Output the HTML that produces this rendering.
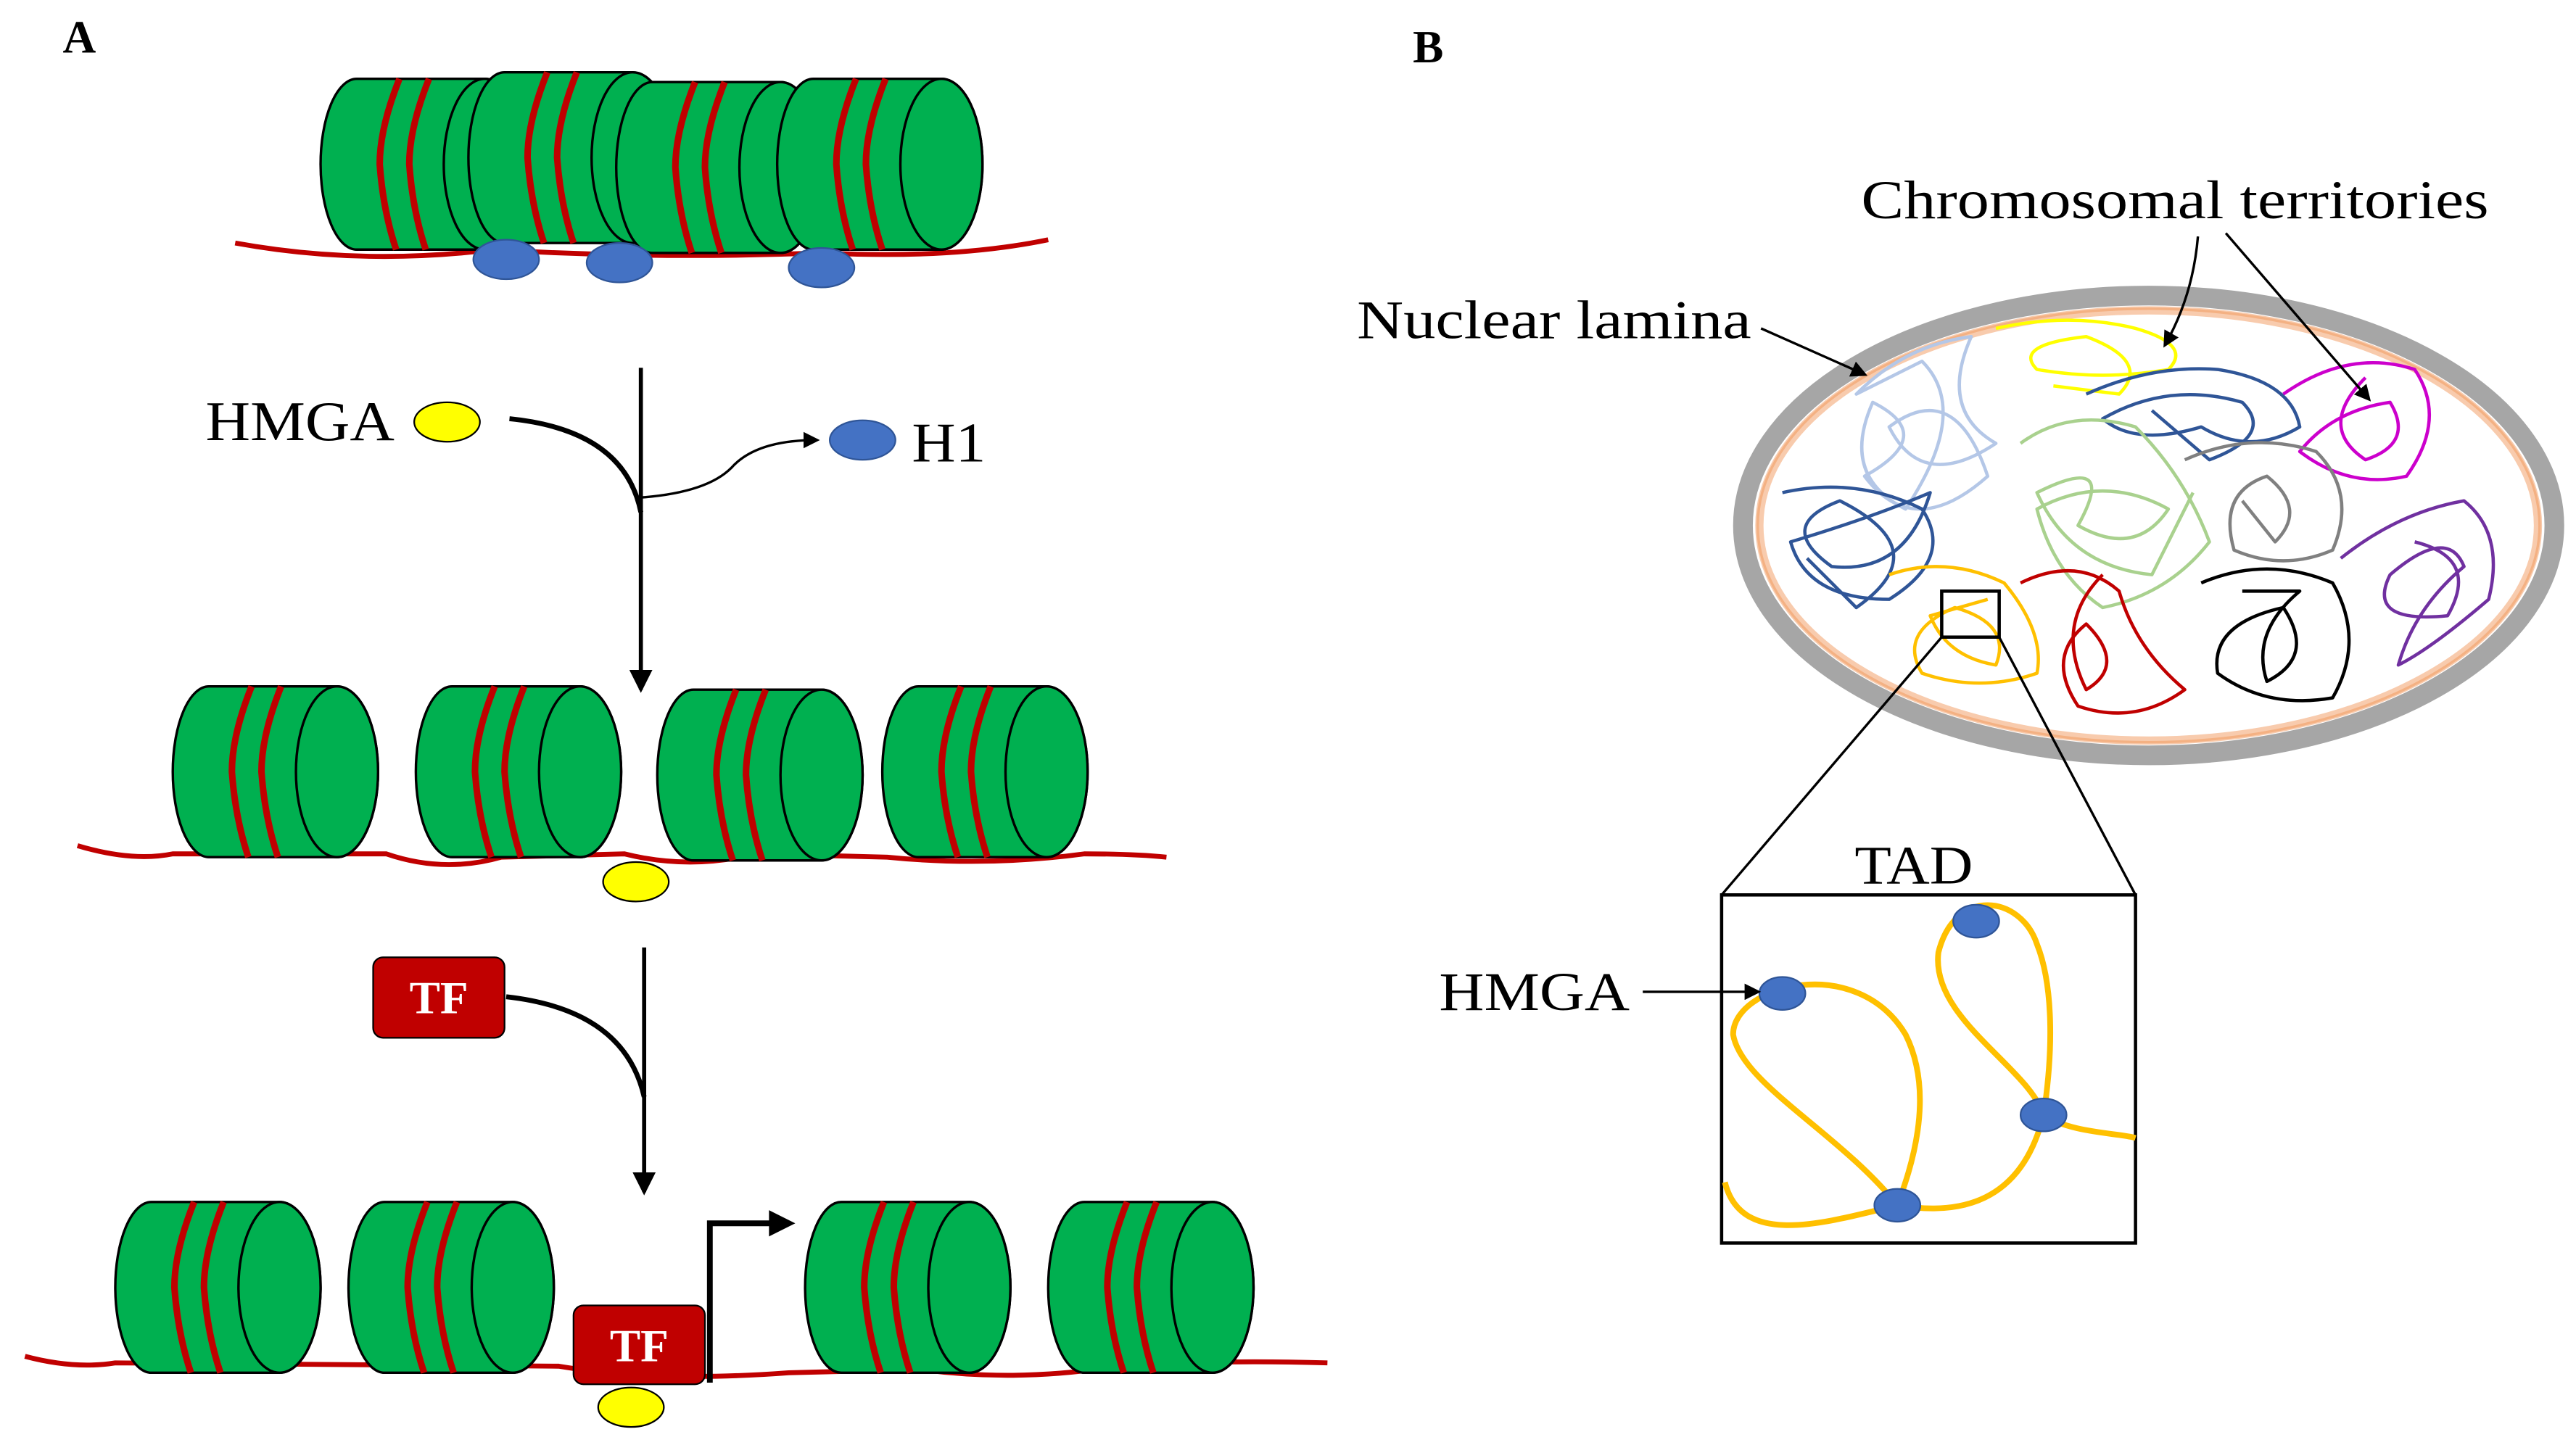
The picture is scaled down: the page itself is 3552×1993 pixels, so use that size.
<!DOCTYPE html>
<html><head><meta charset="utf-8"><style>
html,body{margin:0;padding:0;background:#fff;}
svg{display:block;}
text{font-family:"Liberation Serif",serif;}
</style></head><body>
<svg width="3552" height="1993" viewBox="0 0 1568 880" xmlns="http://www.w3.org/2000/svg">
<defs>
<g id="nuc">
<path d="M22,0 H100 A25,52 0 0 1 100,104 H22 A22,52 0 0 1 22,0 Z" fill="#00b050" stroke="#000" stroke-width="1.5"/>
<path d="M48,0 Q36,30 36,52 Q38,80 46,104 M66,0 Q54,30 54,52 Q56,80 64,104" fill="none" stroke="#c00000" stroke-width="4"/>
<ellipse cx="100" cy="52" rx="25" ry="52" fill="#00b050" stroke="#000" stroke-width="1.5"/>
</g>
<marker id="ah" markerWidth="10" markerHeight="10" refX="8" refY="5" orient="auto" markerUnits="userSpaceOnUse"><path d="M0,0 L10,5 L0,10 Z" fill="#000"/></marker>
<marker id="ah2" markerWidth="14" markerHeight="14" refX="12" refY="7" orient="auto" markerUnits="userSpaceOnUse"><path d="M0,0 L14,7 L0,14 Z" fill="#000"/></marker>
</defs>
<rect width="1568" height="880" fill="#fff"/>

<text x="38" y="32" font-size="28" font-weight="bold">A</text>
<text x="860" y="38" font-size="28" font-weight="bold">B</text>

<!-- Row 1 -->
<path d="M143,148 Q220,162 300,152 Q400,158 500,154 Q580,158 638,146" fill="none" stroke="#c00000" stroke-width="3"/>
<use href="#nuc" x="195" y="48"/>
<use href="#nuc" x="285" y="44"/>
<use href="#nuc" x="375" y="50"/>
<use href="#nuc" x="473" y="48"/>
<ellipse cx="308" cy="158" rx="20" ry="12" fill="#4472c4" stroke="#2f5597"/>
<ellipse cx="377" cy="160" rx="20" ry="12" fill="#4472c4" stroke="#2f5597"/>
<ellipse cx="500" cy="163" rx="20" ry="12" fill="#4472c4" stroke="#2f5597"/>

<!-- arrow 1 -->
<line x1="390" y1="224" x2="390" y2="420" stroke="#000" stroke-width="2.5" marker-end="url(#ah2)"/>
<path d="M310,255 Q380,262 390,312" fill="none" stroke="#000" stroke-width="3"/>
<path d="M390,303 Q430,300 445,285 Q460,268 497,268" fill="none" stroke="#000" stroke-width="1.5" marker-end="url(#ah)"/>
<text x="125" y="268" font-size="34" textLength="115" lengthAdjust="spacingAndGlyphs">HMGA</text>
<ellipse cx="272" cy="257" rx="20" ry="12" fill="#ffff00" stroke="#000"/>
<ellipse cx="525" cy="268" rx="20" ry="12" fill="#4472c4" stroke="#2f5597"/>
<text x="555" y="281" font-size="34" textLength="45" lengthAdjust="spacingAndGlyphs">H1</text>

<!-- Row 2 -->
<path d="M47,515 Q80,525 105,520 L235,520 Q270,532 305,522 L380,520 Q420,530 460,520 L540,522 Q600,528 660,520 Q690,520 710,522" fill="none" stroke="#c00000" stroke-width="3"/>
<use href="#nuc" x="105" y="418"/>
<use href="#nuc" x="253" y="418"/>
<use href="#nuc" x="400" y="420"/>
<use href="#nuc" x="537" y="418"/>
<ellipse cx="387" cy="537" rx="20" ry="12" fill="#ffff00" stroke="#000"/>

<!-- arrow 2 -->
<line x1="392" y1="577" x2="392" y2="726" stroke="#000" stroke-width="2.5" marker-end="url(#ah2)"/>
<path d="M308,607 Q380,615 392,668" fill="none" stroke="#000" stroke-width="3"/>
<rect x="227" y="583" width="80" height="49" rx="6" fill="#c00000" stroke="#000"/>
<text x="267" y="617" font-size="28" font-weight="bold" fill="#fff" text-anchor="middle">TF</text>

<!-- Row 3 -->
<path d="M15,826 Q45,834 70,830 L340,832 Q400,842 480,836 L560,834 Q620,842 680,832 Q740,828 808,830" fill="none" stroke="#c00000" stroke-width="3"/>
<use href="#nuc" x="70" y="732"/>
<use href="#nuc" x="212" y="732"/>
<use href="#nuc" x="490" y="732"/>
<use href="#nuc" x="638" y="732"/>
<polyline points="432,842 432,745 470,745" fill="none" stroke="#000" stroke-width="3.5"/>
<path d="M468,737 L484,745 L468,753 Z" fill="#000"/>
<rect x="349" y="795" width="80" height="48" rx="6" fill="#c00000" stroke="#000"/>
<text x="389" y="829" font-size="28" font-weight="bold" fill="#fff" text-anchor="middle">TF</text>
<ellipse cx="384" cy="857" rx="20" ry="12" fill="#ffff00" stroke="#000"/>

<!-- Panel B nucleus -->
<ellipse cx="1308" cy="320" rx="247" ry="140" fill="#fff" stroke="#a6a6a6" stroke-width="12"/>
<ellipse cx="1308" cy="320" rx="237" ry="131" fill="none" stroke="#f8cbad" stroke-width="5"/>
<ellipse cx="1308" cy="320" rx="238" ry="132" fill="none" stroke="#f4b183" stroke-width="1.5"/>

<g fill="none" stroke-width="2" stroke-linejoin="round">
<path stroke="#b4c7e7" d="M1130,240 Q1160,210 1200,205 Q1180,250 1215,270 Q1170,300 1150,260 Q1190,230 1210,290 Q1165,330 1135,290 Q1180,265 1140,245 Q1120,290 1160,310 Q1200,250 1170,220 Z"/>
<path stroke="#2f5597" d="M1085,300 Q1130,290 1170,310 Q1190,340 1150,365 Q1100,365 1090,330 Q1140,315 1175,300 Q1160,350 1115,345 Q1080,320 1120,305 Q1180,335 1130,370 L1100,340"/>
<path stroke="#ffff00" d="M1215,200 Q1260,190 1300,200 Q1335,210 1320,225 Q1280,232 1240,225 Q1225,210 1270,205 Q1310,220 1290,240 L1250,235"/>
<path stroke="#2f5597" d="M1270,240 Q1310,222 1350,225 Q1395,232 1400,260 Q1370,278 1340,260 Q1300,272 1280,255 Q1320,232 1365,245 Q1385,265 1345,280 L1310,250"/>
<path stroke="#a9d18e" d="M1230,270 Q1260,248 1300,260 Q1330,290 1345,330 Q1320,362 1280,370 Q1250,350 1240,310 Q1280,288 1320,310 Q1300,340 1265,320 Q1290,275 1240,300 Q1260,345 1310,350 L1335,300"/>
<path stroke="#cc00cc" d="M1390,240 Q1430,212 1470,225 Q1490,255 1465,290 Q1430,298 1400,275 Q1420,250 1455,245 Q1470,270 1440,280 Q1410,260 1440,230"/>
<path stroke="#808080" d="M1330,280 Q1370,262 1410,275 Q1435,300 1420,335 Q1390,348 1360,335 Q1350,300 1380,290 Q1405,310 1385,330 L1365,305"/>
<path stroke="#7030a0" d="M1425,340 Q1460,312 1500,305 Q1525,325 1515,365 Q1480,395 1460,405 Q1470,370 1500,345 Q1490,320 1455,350 Q1440,380 1490,375 Q1510,340 1470,330"/>
<path stroke="#000" d="M1340,355 Q1380,338 1420,355 Q1440,390 1420,425 Q1380,432 1350,410 Q1345,380 1390,370 Q1410,400 1380,415 Q1370,385 1400,360 L1365,360"/>
<path stroke="#c00000" d="M1230,355 Q1265,338 1290,360 Q1300,395 1330,420 Q1300,442 1265,430 Q1245,400 1270,380 Q1295,405 1270,420 Q1250,380 1280,350"/>
<path stroke="#ffc000" d="M1150,350 Q1185,338 1220,355 Q1245,385 1240,410 Q1205,422 1170,410 Q1155,385 1190,370 Q1225,380 1215,405 Q1185,400 1175,375 L1210,365"/>
</g>
<rect x="1182" y="360" width="35" height="28" fill="none" stroke="#000" stroke-width="2"/>
<line x1="1182" y1="388" x2="1048" y2="545" stroke="#000" stroke-width="1.5"/>
<line x1="1217" y1="388" x2="1300" y2="545" stroke="#000" stroke-width="1.5"/>

<text x="1133" y="133" font-size="33" textLength="382" lengthAdjust="spacingAndGlyphs">Chromosomal territories</text>
<text x="826" y="206" font-size="33" textLength="240" lengthAdjust="spacingAndGlyphs">Nuclear lamina</text>
<path d="M1072,200 L1135,228" stroke="#000" stroke-width="1.5" marker-end="url(#ah)"/>
<path d="M1338,144 Q1335,180 1318,210" fill="none" stroke="#000" stroke-width="1.5" marker-end="url(#ah)"/>
<path d="M1355,142 L1442,243" stroke="#000" stroke-width="1.5" marker-end="url(#ah)"/>

<!-- TAD box -->
<rect x="1048" y="545" width="252" height="212" fill="#fff" stroke="#000" stroke-width="2"/>
<text x="1165" y="538" font-size="33" text-anchor="middle" textLength="72" lengthAdjust="spacingAndGlyphs">TAD</text>
<g fill="none" stroke="#ffc000" stroke-width="3.5">
<path d="M1050,720 C1060,760 1110,745 1155,734 C1120,690 1060,660 1055,630 C1055,600 1130,580 1160,630 C1180,670 1160,720 1155,734 C1190,740 1230,735 1244,679 C1250,640 1250,600 1240,575 C1230,545 1190,540 1180,580 C1175,620 1235,650 1244,679 C1260,690 1290,690 1300,693"/>
</g>
<ellipse cx="1085" cy="605" rx="14" ry="10" fill="#4472c4" stroke="#2f5597"/>
<ellipse cx="1203" cy="561" rx="14" ry="10" fill="#4472c4" stroke="#2f5597"/>
<ellipse cx="1244" cy="679" rx="14" ry="10" fill="#4472c4" stroke="#2f5597"/>
<ellipse cx="1155" cy="734" rx="14" ry="10" fill="#4472c4" stroke="#2f5597"/>
<text x="876" y="615" font-size="33" textLength="116" lengthAdjust="spacingAndGlyphs">HMGA</text>
<line x1="1000" y1="604" x2="1070" y2="604" stroke="#000" stroke-width="1.5" marker-end="url(#ah)"/>
</svg>
</body></html>
